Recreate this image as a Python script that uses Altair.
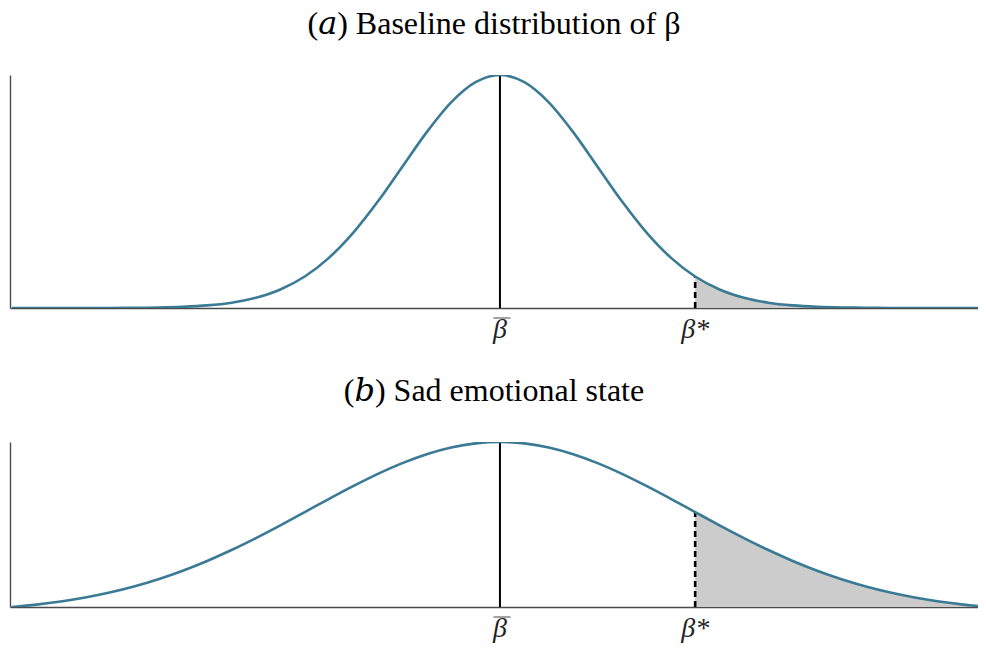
import altair as alt
import pandas as pd

# x positions (beta units, mean at 0)
xs = [-5, -4.75, -4.5, -4.25, -4, -3.75, -3.5, -3.25, -3, -2.75, -2.5, -2.25, -2, -1.75, -1.5, -1.25,
      -1, -0.75, -0.5, -0.25, 0, 0.25, 0.5, 0.75, 1, 1.25, 1.5, 1.75, 2, 2.25, 2.5, 2.75, 3, 3.25,
      3.5, 3.75, 4, 4.25, 4.5, 4.75, 5]

# curve heights (fraction of panel peak)
top_y = [0, 0, 0, 0.0001, 0.0003, 0.0009, 0.0022, 0.0051, 0.0111, 0.0228, 0.0439, 0.0796, 0.1353,
         0.2163, 0.3247, 0.4578, 0.6065, 0.7548, 0.8825, 0.969, 1.0, 0.969, 0.8825, 0.7548, 0.6065,
         0.4578, 0.3247, 0.2163, 0.1353, 0.0796, 0.0439, 0.0228, 0.0111, 0.0051, 0.0022, 0.0009,
         0.0003, 0.0001, 0, 0, 0]
bottom_y = [0, 0.0146, 0.0336, 0.0577, 0.0879, 0.1246, 0.1686, 0.2202, 0.2792, 0.3454, 0.4178,
            0.4950, 0.5751, 0.6556, 0.7339, 0.8070, 0.8720, 0.9259, 0.9665, 0.9915, 1.0, 0.9915,
            0.9665, 0.9259, 0.8720, 0.8070, 0.7339, 0.6556, 0.5751, 0.4950, 0.4178, 0.3454, 0.2792,
            0.2202, 0.1686, 0.1246, 0.0879, 0.0577, 0.0336, 0.0146, 0]

beta_bar = 0
beta_star = 2
titles = ["(𝑎) Baseline distribution of β", "(𝑏) Sad emotional state"]
tick_values = [beta_bar, beta_star]
tick_texts = ["β", "β*"]

CURVE = "#3a7a95"
SERIF = "'Liberation Serif', 'DejaVu Serif', serif"

xscale = alt.Scale(domain=[-5.02, 4.898], nice=False, zero=False)
yscale = alt.Scale(domain=[0, 1], nice=False)


def panel(yvals, title, height):
    df = pd.DataFrame({"x": xs, "y": yvals})
    peak = max(yvals)
    star_h = yvals[xs.index(beta_star)]
    tail = df[df["x"] >= beta_star]
    rules = pd.DataFrame({"x": [beta_bar], "y": [0], "y2": [peak]})
    dash = pd.DataFrame({"x": [beta_star], "y": [0], "y2": [star_h]})
    labels = pd.DataFrame({"x": tick_values, "y": [0, 0], "t": tick_texts})
    bar = pd.DataFrame({"x": [beta_bar], "y": [0]})

    xaxis = alt.Axis(values=tick_values, ticks=False, labels=False, grid=False, title=None,
                     domainColor="#4a4a4a", domainWidth=1.4)
    yaxis = alt.Axis(ticks=False, labels=False, grid=False, title=None,
                     domainColor="#4a4a4a", domainWidth=1.4)

    area = alt.Chart(tail).mark_area(color="#cccccc", interpolate="monotone", clip=True).encode(
        x=alt.X("x:Q", scale=xscale, axis=xaxis),
        y=alt.Y("y:Q", scale=yscale, axis=yaxis),
    )
    line = alt.Chart(df).mark_line(color=CURVE, strokeWidth=2.6, interpolate="monotone",
                                   clip=True).encode(
        x=alt.X("x:Q", scale=xscale),
        y=alt.Y("y:Q", scale=yscale),
    )
    mean_rule = alt.Chart(rules).mark_rule(color="black", strokeWidth=2).encode(
        x="x:Q", y="y:Q", y2="y2:Q"
    )
    dash_rule = alt.Chart(dash).mark_rule(color="black", strokeWidth=2.6, strokeDash=[6, 4]).encode(
        x="x:Q", y="y:Q", y2="y2:Q"
    )
    text = alt.Chart(labels).mark_text(
        font=SERIF, fontSize=28, fontStyle="italic", color="#222",
        baseline="alphabetic", align="center", dy=30
    ).encode(x="x:Q", y="y:Q", text="t:N")
    over = alt.Chart(bar).mark_tick(
        orient="horizontal", size=17, thickness=1.2, color="#222", yOffset=10, xOffset=2
    ).encode(x="x:Q", y="y:Q")
    return alt.layer(area, mean_rule, dash_rule, line, text, over).properties(
        width=968, height=height,
        title=alt.TitleParams(text=title, font=SERIF, fontSize=32, fontWeight="normal",
                              color="black", anchor="middle", baseline="alphabetic", offset=8),
    )


chart = alt.vconcat(
    panel(top_y, titles[0], 233),
    panel(bottom_y, titles[1], 165),
    spacing=134,
    bounds="flush",
).properties(
    padding={"left": 2, "top": 0, "right": 0, "bottom": 5}
).configure_view(stroke=None)

chart.save("out.html", embed_options={"renderer": "svg", "actions": False})
